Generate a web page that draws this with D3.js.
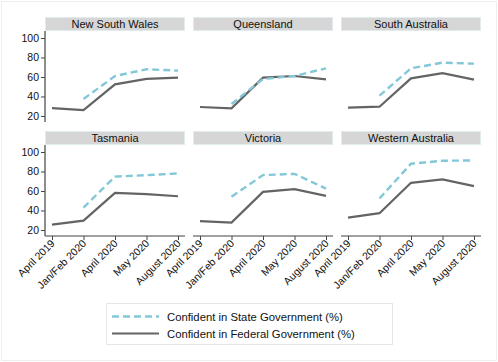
<!DOCTYPE html>
<html>
<head>
<meta charset="utf-8">
<script src="https://cdn.jsdelivr.net/npm/d3@7"></script>
<style>
  body { margin: 0; background: #fff; }
  text { font-family: "Liberation Sans", Arial, Helvetica, sans-serif; fill: #111; }
</style>
</head>
<body>
<svg id="chart"></svg>
<script>
// survey waves
const waves = ["April 2019", "Jan/Feb 2020", "April 2020", "May 2020", "August 2020"];
const states = ["New South Wales", "Queensland", "South Australia", "Tasmania", "Victoria", "Western Australia"];

// confidence in federal government (%), one array per state
const federalNSW = [28, 26, 52.5, 58, 59.3];
const federalQLD = [29.2, 27.9, 59.3, 61, 57.6];
const federalSA = [28.5, 29.5, 58.6, 64, 57.3];
const federalTAS = [25.5, 29.6, 58, 56.7, 54.6];
const federalVIC = [29, 27.6, 59.1, 61.9, 55];
const federalWA = [32.7, 37.2, 68.4, 71.9, 65];

// confidence in state government (%), no April 2019 wave
const stateNSW = [null, 37.4, 61, 67.9, 66.5];
const stateQLD = [null, 32.3, 58, 61, 68.9];
const stateSA = [null, 40.8, 68.9, 74.7, 73.7];
const stateTAS = [null, 42.9, 74.8, 76.2, 78];
const stateVIC = [null, 54, 76.3, 77.6, 62.5];
const stateWA = [null, 52.3, 88, 91, 91.4];

const yTicks = [20, 40, 60, 80, 100];

const federalSeries = [federalNSW, federalQLD, federalSA, federalTAS, federalVIC, federalWA];
const stateSeries = [stateNSW, stateQLD, stateSA, stateTAS, stateVIC, stateWA];

const W = 498, H = 362;
const stateColor = "#82c8d8";
const fedColor = "#646464";

const svg = d3.select("#chart").attr("width", W).attr("height", H);

// faint outer frame
svg.append("rect")
  .attr("x", 1.5).attr("y", 1.5)
  .attr("width", W - 3).attr("height", H - 3)
  .attr("fill", "#fff").attr("stroke", "#eeeeee");

// panel grid
const panelLefts = [45, 193, 341];
const panelW = 140;
const headerTops = [17, 131];
const headerH = 14;
const plotH = 91;

const x = d3.scalePoint().domain(waves).range([7, panelW - 7]);
const y = d3.scaleLinear().domain([13.8, 107.2]).range([plotH, 0]);

const line = d3.line()
  .defined(d => d != null)
  .x((d, i) => x(waves[i]))
  .y(d => y(d));

states.forEach((name, k) => {
  const col = k % 3, row = Math.floor(k / 3);
  const px = panelLefts[col];
  const hy = headerTops[row];
  const py = hy + headerH;

  // header strip
  svg.append("rect")
    .attr("x", px + 0.5).attr("y", hy + 0.5)
    .attr("width", panelW - 1).attr("height", headerH - 1)
    .attr("fill", "#d6d6d6").attr("stroke", "#e2ecef");
  svg.append("text")
    .attr("x", px + panelW / 2).attr("y", hy + 11)
    .attr("text-anchor", "middle")
    .attr("font-size", 11)
    .text(name);

  const g = svg.append("g").attr("transform", `translate(${px},${py})`);

  // y axis on the left column
  if (col === 0) {
    const yAxis = d3.axisLeft(y).tickValues(yTicks).tickSize(4).tickPadding(2);
    const ya = g.append("g").call(yAxis);
    ya.select(".domain").attr("d", `M0,0V${plotH}`).attr("stroke", "#444").attr("stroke-width", 1.2);
    ya.selectAll(".tick line").attr("stroke", "#444");
    ya.selectAll(".tick text").attr("font-size", 10.5)
      .style("font-family", "'Liberation Sans', Arial, sans-serif").attr("fill", "#111");
  }

  // x axis on the bottom row
  if (row === 1) {
    const xAxis = d3.axisBottom(x).tickSize(4).tickSizeOuter(0).tickPadding(2);
    const xa = g.append("g").attr("transform", `translate(0,${plotH})`).call(xAxis);
    xa.select(".domain").attr("d", `M0,0H${panelW}`).attr("stroke", "#444").attr("stroke-width", 1.2);
    xa.selectAll(".tick line").attr("stroke", "#444");
    xa.selectAll(".tick text")
      .attr("font-size", 10.5)
      .style("font-family", "'Liberation Sans', Arial, sans-serif")
      .attr("fill", "#111")
      .attr("text-anchor", "end")
      .attr("dy", null)
      .attr("y", 0)
      .attr("transform", "translate(3,8) rotate(-45)");
  }

  g.append("path")
    .datum(federalSeries[k])
    .attr("d", line)
    .attr("fill", "none")
    .attr("stroke", fedColor)
    .attr("stroke-width", 2.2);

  g.append("path")
    .datum(stateSeries[k])
    .attr("d", line)
    .attr("fill", "none")
    .attr("stroke", stateColor)
    .attr("stroke-width", 2.4)
    .attr("stroke-dasharray", "7,4");
});

// legend
const lg = svg.append("g").attr("transform", "translate(106,303)");
lg.append("rect")
  .attr("x", 0.5).attr("y", 0.5)
  .attr("width", 286).attr("height", 41)
  .attr("fill", "#fff").attr("stroke", "#e6e6e6");
const legendItems = [
  {label: "Confident in State Government (%)", color: stateColor, dash: "7,4", w: 2.4},
  {label: "Confident in Federal Government (%)", color: fedColor, dash: null, w: 2.2}
];
legendItems.forEach((d, i) => {
  const yy = 13.5 + i * 17;
  lg.append("line")
    .attr("x1", 6).attr("x2", 53)
    .attr("y1", yy).attr("y2", yy)
    .attr("stroke", d.color)
    .attr("stroke-width", d.w)
    .attr("stroke-dasharray", d.dash);
  lg.append("text")
    .attr("x", 61).attr("y", yy + 4)
    .attr("font-size", 11.3)
    .text(d.label);
});
</script>
</body>
</html>
